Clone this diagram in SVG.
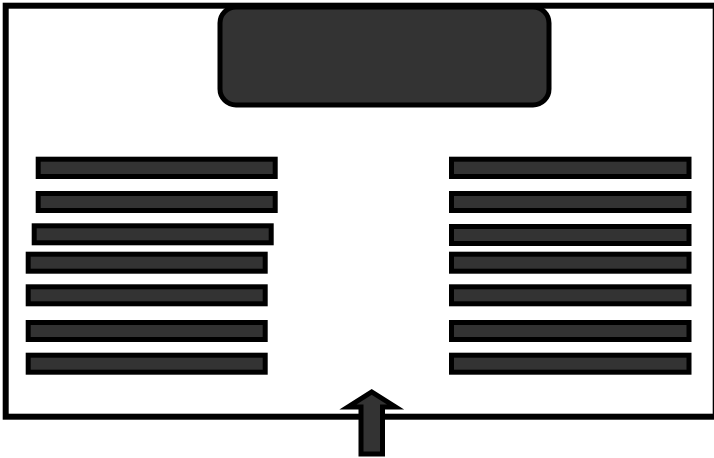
<svg xmlns="http://www.w3.org/2000/svg" width="714" height="458" viewBox="0 0 714 458">
<style>
.frame{fill:#fff;stroke:#000;stroke-width:6}
.head{fill:#333;stroke:#000;stroke-width:5}
.bar{fill:#333;stroke:#000;stroke-width:5}
.arrow{fill:#333;stroke:#000;stroke-width:5;stroke-linejoin:miter}
</style>
<rect width="714" height="458" fill="#fff"/>
<g id="frame"><rect class="frame" x="5.7" y="5.7" width="710" height="411"/></g>
<g id="header"><rect class="head" x="220" y="7" width="329" height="98" rx="16" ry="16"/></g>
<g id="left-bars">
<rect id="l1" class="bar" x="38.2" y="159.2" width="237" height="17.3"/>
<rect id="l2" class="bar" x="38.2" y="193.5" width="237" height="17"/>
<rect id="l3" class="bar" x="34.2" y="225.8" width="237" height="17"/>
<rect id="l4" class="bar" x="28.2" y="254.2" width="237" height="17"/>
<rect id="l5" class="bar" x="28.2" y="286.8" width="237" height="17"/>
<rect id="l6" class="bar" x="28.2" y="322.5" width="237" height="17"/>
<rect id="l7" class="bar" x="28.2" y="355.2" width="237" height="17"/>
</g>
<g id="right-bars">
<rect id="r1" class="bar" x="451.5" y="159.2" width="237.5" height="17.3"/>
<rect id="r2" class="bar" x="451.5" y="193.5" width="237.5" height="17"/>
<rect id="r3" class="bar" x="451.5" y="226.5" width="237.5" height="17"/>
<rect id="r4" class="bar" x="451.5" y="254.2" width="237.5" height="17"/>
<rect id="r5" class="bar" x="451.5" y="286.8" width="237.5" height="17"/>
<rect id="r6" class="bar" x="451.5" y="322.5" width="237.5" height="17"/>
<rect id="r7" class="bar" x="451.5" y="355.2" width="237.5" height="17"/>
</g>
<g id="connectors">
<polygon class="arrow" points="361,454 361,407 348,407 371.7,392 395.5,407 382.5,407 382.5,454"/>
</g>
</svg>
